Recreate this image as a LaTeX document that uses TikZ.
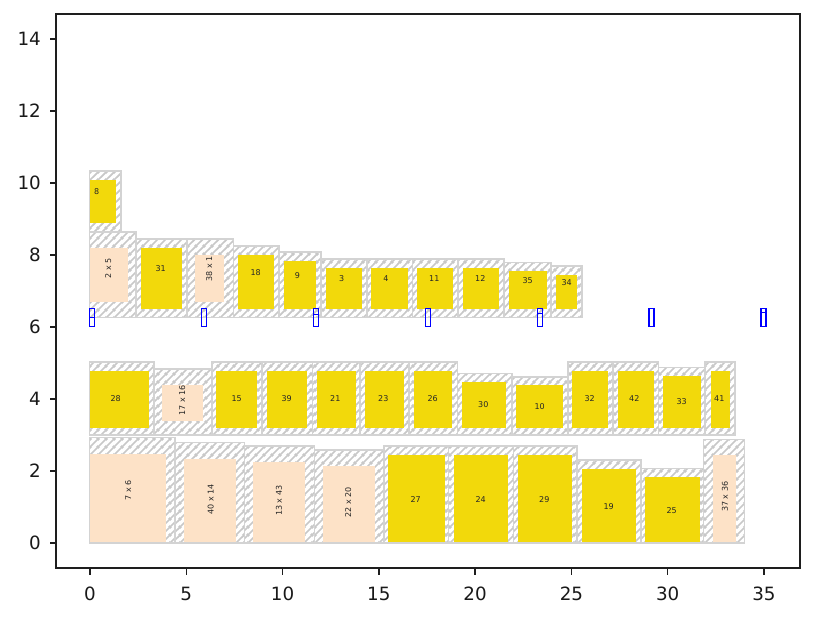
\documentclass[tikz,border=0pt]{standalone}
\usepackage{fontspec}
\setmainfont{DejaVu Sans}
\usetikzlibrary{patterns.meta}
\definecolor{hatchgray}{RGB}{211,211,211}
\definecolor{hatchline}{RGB}{200,200,200}
\definecolor{goldy}{RGB}{242,217,11}
\definecolor{peachy}{RGB}{253,226,199}
\definecolor{spine}{RGB}{30,30,30}
\tikzdeclarepattern{
  name=mhatch,
  type=uncolored,
  bounding box={(0pt,0pt) and (7.5pt,7.5pt)},
  tile size={(7.5pt,7.5pt)},
  code={
    \draw[line width=1.8pt] (-1pt,-1pt) -- (8.5pt,8.5pt);
    \draw[line width=1.8pt] (-1.5pt,6pt) -- (1.5pt,9pt);
    \draw[line width=1.8pt] (6pt,-1.5pt) -- (9pt,1.5pt);
  }
}
\tikzset{
  hatchfill/.style={pattern=mhatch, pattern color=hatchline},
  cedge/.style={draw=hatchgray, line width=1.6pt},
  lab/.style={font=\fontsize{8}{9}\selectfont, inner sep=0pt, text=black!85},
  tlab/.style={font=\fontsize{18.3}{20}\selectfont, inner sep=0pt, text=black!90},
  slot/.style={draw=blue, line width=1.6pt},
  ax/.style={draw=spine, line width=1.4pt},
}
\begin{document}
\begin{tikzpicture}[x=1pt,y=-1pt]
\useasboundingbox (0,0) rectangle (815,618);
% containers: hatch fill
\def\contlist{89.5/121/171/231.7, 89.5/136/231.7/317.5, 136/186.7/239/317.5, 186.7/233.3/239/317.5, 233.3/279/245.7/317.5, 279/321/251.7/317.5, 321/366.7/259/317.5, 366.7/412.3/259/317.5, 412.3/458/259/317.5, 458/504/259/317.5, 504/551/262.3/317.5, 551/582/265.7/317.5,
89.5/154/361.7/435, 154/211.7/369/435, 211.7/261.7/361.7/435, 261.7/312.3/361.7/435, 312.3/360/361.7/435, 360/409/361.7/435, 409/457.3/361.7/435, 457.3/511.7/373.3/435, 511.7/567.7/376.7/435, 567.7/613/361.7/435, 613/658.3/361.7/435, 658.3/705/367.3/435, 705/735/361.7/435,
89.5/175/437.3/543, 175/244.3/442.3/543, 244.3/314.3/445.7/543, 314.3/384/450/543, 384/448.3/445.7/543, 448.3/513.3/445.7/543, 513.3/576.7/445.7/543, 576.7/640.7/460/543, 640.7/703.3/468.3/543, 703.3/744.3/439.3/543}
\foreach \a/\b/\t/\u in \contlist {
  \fill[hatchfill] (\a,\t) rectangle (\b,\u);
}
% inner items
\foreach \a/\b/\t/\u/\c in {89.5/115.7/180/222.7/goldy, 89.5/127.7/247.7/301.7/peachy, 141/181.7/247.7/309/goldy, 195/224/255/301.7/peachy, 237.7/274/255/309/goldy, 284/315.7/261/309/goldy, 326/361.7/268.3/309/goldy, 371/407.7/268.3/309/goldy, 417/452.7/268.3/309/goldy, 463/499/268.3/309/goldy, 509/546.7/271/309/goldy, 555.7/576.7/275/309/goldy,
89.5/149/371/427.7/goldy, 161.7/203.3/385/420.7/peachy, 216/256.7/371/427.7/goldy, 267/307/371/427.7/goldy, 317/356/371/427.7/goldy, 365/404/371/427.7/goldy, 414/452/371/427.7/goldy, 462/506/382.3/427.7/goldy, 516/563/385/427.7/goldy, 572/608/371/427.7/goldy, 618/653.7/371/427.7/goldy, 663.3/701/376/427.7/goldy, 711/730/371/427.7/goldy,
89.5/166/454/543/peachy, 184.3/236/459.3/543/peachy, 253.3/305/462.3/543/peachy, 323.3/375/466/543/peachy, 388.3/445/455/543/goldy, 454/507.7/455/543/goldy, 518.3/571.7/455/543/goldy, 582.3/635.7/469.3/543/goldy, 645.3/700/477.3/543/goldy, 713.3/735.7/455/543/peachy} {
  \fill[\c] (\a,\t) rectangle (\b,\u);
}
% container borders
\foreach \a/\b/\t/\u in \contlist {
  \draw[cedge] (\a,\t) rectangle (\b,\u);
}
% labels
\foreach \n/\x/\y/\s in {l8/96.7/191.7/8, l31/160.7/268.3/31, l18/255.7/272.7/18, l9/297.3/275.7/9, l3/341.7/279/3, l4/386/279/4, l11/434.3/279/11, l12/480.3/279/12, l35/527.7/280.7/35, l34/566.7/282.3/34,
l28/115.7/398.3/28, l15/236.7/398.3/15, l39/286.7/398.3/39, l21/335.3/398.3/21, l23/383.3/398.3/23, l26/432.7/398.3/26, l30/483.3/404.3/30, l10/539.7/406.7/10, l32/589.7/398.3/32, l42/634.3/398.3/42, l33/681.7/401.7/33, l41/719.3/398.3/41,
l27/415.7/499.3/27, l24/480.7/499.3/24, l29/544.3/499.3/29, l19/608.7/506.7/19, l25/671.7/510.7/25} {
  \node[lab] (\n) at (\x,\y) {\s};
}
\foreach \n/\x/\y/\s in {r2x5/108.3/268.3/2 x 5, r38x1/209.3/269/38 x 1, r17x16/182.3/400/17 x 16, r7x6/128.3/490/7 x 6, r40x14/210.7/499/40 x 14, r13x43/279/500.7/13 x 43, r22x20/348.3/502.3/22 x 20, r37x36/725/496.7/37 x 36} {
  \node[lab, rotate=90] (\n) at (\x,\y) {\s};
}
% blue slots
\foreach \k in {0,...,6} {
  \pgfmathsetmacro{\xl}{89.5+111.95*\k}
  \pgfmathsetmacro{\xr}{\xl+5}
  \draw[slot] (\xl,308.5) rectangle (\xr,326.5);
}
\foreach \k/\yy in {0/317.3, 2/314.3, 4/313.3, 6/312.3} {
  \pgfmathsetmacro{\xl}{89.5+111.95*\k}
  \pgfmathsetmacro{\xr}{\xl+5}
  \draw[blue, line width=1.2pt] (\xl,\yy) -- (\xr,\yy);
}
% axes
\draw[ax] (56,14) rectangle (800,568);
\foreach \v [count=\i from 0] in {0,5,10,15,20,25,30,35} {
  \pgfmathsetmacro{\xx}{90+19.257*\v}
  \draw[ax] (\xx,568) -- (\xx,574.5);
  \node[tlab, anchor=base] (xt\i) at (\xx,600) {\v};
}
\foreach \v [count=\i from 0] in {0,2,4,6,8,10,12,14} {
  \pgfmathsetmacro{\yy}{543-36*\v}
  \draw[ax] (56,\yy) -- (49.5,\yy);
  \node[tlab, anchor=east] (yt\i) at (41,\yy) {\v};
}
\end{tikzpicture}
\end{document}
